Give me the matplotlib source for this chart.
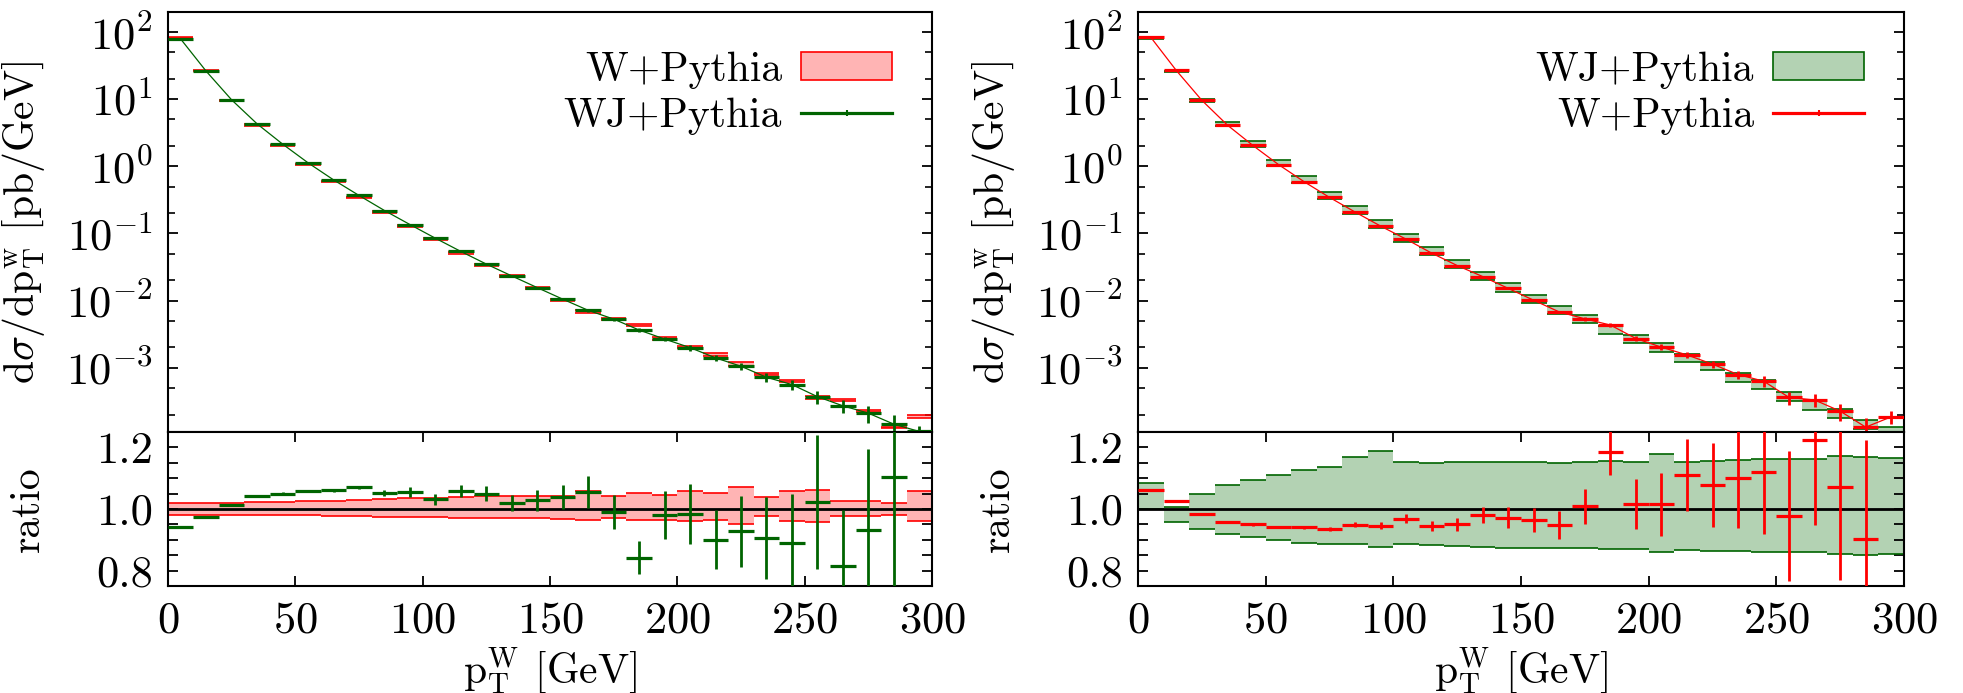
#!/usr/bin/env python3
#coding: utf-8

import numpy as np
import matplotlib
matplotlib.use("Agg")
import matplotlib.pyplot as plt
from matplotlib.patches import Patch
from matplotlib.lines import Line2D
from matplotlib.ticker import LogLocator, MultipleLocator, NullFormatter, FixedLocator

plt.rcParams["font.family"] = "serif"
plt.rcParams["font.serif"] = ["cmr10"]
plt.rcParams["mathtext.fontset"] = "cm"
plt.rcParams["axes.formatter.use_mathtext"] = True
plt.rcParams["axes.unicode_minus"] = False

# pT bins [GeV]
bin_edges = np.arange(0, 310, 10)

# d sigma / d pT  [pb/GeV]
w_xsec = [84, 26.9, 9.66, 4.13, 2.05, 1.066, 0.593, 0.345, 0.209, 0.129,
          0.0823, 0.051, 0.0333, 0.0228, 0.0152, 0.0101, 0.00677, 0.00535, 0.00432, 0.00272,
          0.00202, 0.00155, 0.00113, 7.9e-4, 6.3e-4, 3.6e-4, 3.3e-4, 2.25e-4, 1.3e-4, 1.85e-4]
wj_xsec = [79, 26.2, 9.8, 4.3, 2.15, 1.13, 0.63, 0.369, 0.22, 0.136,
           0.085, 0.054, 0.035, 0.0233, 0.0156, 0.0105, 0.00716, 0.0053, 0.00364, 0.00267,
           0.00199, 0.0014, 0.00105, 7.2e-4, 5.6e-4, 3.7e-4, 2.7e-4, 2.1e-4, 1.44e-4, 1.12e-4]

# left ratio: WJ / W with WJ stat errors, W uncertainty band
ratio_wj_w = [0.940, 0.973, 1.014, 1.041, 1.050, 1.059, 1.061, 1.070, 1.052, 1.055,
              1.032, 1.058, 1.050, 1.020, 1.028, 1.039, 1.055, 0.990, 0.842, 0.980,
              0.983, 0.900, 0.927, 0.905, 0.891, 1.023, 0.815, 0.933, 1.105, 0.605]
err_wj = [0.002, 0.002, 0.003, 0.003, 0.004, 0.004, 0.005, 0.006, 0.009, 0.016,
          0.018, 0.020, 0.024, 0.027, 0.035, 0.040, 0.052, 0.055, 0.053, 0.078,
          0.098, 0.096, 0.116, 0.133, 0.158, 0.218, 0.183, 0.261, 0.400, 0.120]
red_hi = [1.021, 1.021, 1.021, 1.024, 1.024, 1.025, 1.027, 1.029, 1.031, 1.035,
          1.035, 1.038, 1.041, 1.041, 1.041, 1.041, 1.058, 1.041, 1.051, 1.046,
          1.057, 1.051, 1.073, 1.039, 1.057, 1.063, 1.025, 1.027, 1.021, 1.060]
red_lo = [0.982, 0.982, 0.982, 0.979, 0.979, 0.979, 0.976, 0.976, 0.975, 0.975,
          0.975, 0.971, 0.970, 0.970, 0.970, 0.968, 0.965, 0.972, 0.963, 0.965,
          0.960, 0.965, 0.950, 0.977, 0.961, 0.958, 0.978, 0.976, 0.982, 0.960]

# right ratio: W / WJ with W stat errors, WJ uncertainty band
ratio_w_wj = [1.062, 1.025, 0.984, 0.958, 0.950, 0.942, 0.941, 0.934, 0.949, 0.946,
              0.968, 0.945, 0.950, 0.979, 0.972, 0.963, 0.947, 1.009, 1.186, 1.017,
              1.015, 1.110, 1.077, 1.102, 1.120, 0.977, 1.225, 1.070, 0.902, 1.650]
err_w = [0.002, 0.002, 0.003, 0.003, 0.004, 0.004, 0.005, 0.006, 0.008, 0.011,
         0.015, 0.017, 0.022, 0.026, 0.034, 0.039, 0.046, 0.057, 0.076, 0.082,
         0.102, 0.118, 0.136, 0.163, 0.200, 0.210, 0.276, 0.299, 0.322, 0.350]
green_hi = [1.086, 1.005, 1.048, 1.077, 1.093, 1.112, 1.128, 1.137, 1.170, 1.187,
            1.154, 1.150, 1.153, 1.151, 1.153, 1.153, 1.148, 1.153, 1.155, 1.151,
            1.180, 1.154, 1.157, 1.159, 1.163, 1.162, 1.161, 1.171, 1.170, 1.166]
green_lo = [1.000, 0.959, 0.934, 0.920, 0.908, 0.899, 0.890, 0.887, 0.885, 0.878,
            0.887, 0.883, 0.879, 0.878, 0.875, 0.874, 0.874, 0.872, 0.870, 0.870,
            0.862, 0.867, 0.865, 0.864, 0.861, 0.859, 0.859, 0.854, 0.852, 0.855]

RED = "#ff0000"
RED_FILL = "#ffb4b4"
GREEN = "#006400"
GREEN_FILL = "#b3d2b3"
FS = 30
TICK_FS = 32


def style_axes(ax):
	for sp in ax.spines.values():
		sp.set_linewidth(1.5)
	ax.set_xlim(0, 300)


def draw_panel(ax_main, ax_ratio, band_xsec, band_lo, band_hi, band_fill, band_edge,
			   pts_xsec, pts_ratio, pts_err, pts_color, labels):
	left = bin_edges[:-1]
	right = bin_edges[1:]
	centers = 0.5 * (left + right)
	band_xsec = np.array(band_xsec)
	band_lo = np.array(band_lo)
	band_hi = np.array(band_hi)
	pts_xsec = np.array(pts_xsec)
	pts_ratio = np.array(pts_ratio)
	pts_err = np.array(pts_err)

	# main panel
	ax_main.bar(centers, band_xsec * (band_hi - band_lo), width=10, bottom=band_xsec * band_lo,
				color=band_fill, lw=0, zorder=1)
	ax_main.hlines(band_xsec * band_hi, left, right, color=band_edge, lw=1.2, zorder=2)
	ax_main.hlines(band_xsec * band_lo, left, right, color=band_edge, lw=1.2, zorder=2)
	ax_main.plot(centers, pts_xsec, color=pts_color, lw=0.9, zorder=3)
	ax_main.hlines(pts_xsec, left, right, color=pts_color, lw=2.3, zorder=4)
	ax_main.errorbar(centers, pts_xsec, yerr=pts_xsec * pts_err / pts_ratio, fmt="none",
					 ecolor=pts_color, elinewidth=2.0, zorder=4)
	ax_main.set_yscale("log")
	ax_main.set_ylim(1.1e-4, 2e2)
	ax_main.yaxis.set_major_locator(LogLocator(base=10, numticks=20))
	ax_main.yaxis.set_minor_locator(LogLocator(base=10, subs=(2.0, 5.0), numticks=20))
	ax_main.yaxis.set_minor_formatter(NullFormatter())
	ax_main.tick_params(axis="x", which="both", bottom=False, top=False, labelbottom=False)
	ax_main.tick_params(axis="y", which="major", direction="in", left=True, right=True,
						length=7, width=1.3, labelsize=TICK_FS, pad=11)
	ax_main.tick_params(axis="y", which="minor", direction="in", left=True, right=True,
						length=5, width=1.2)
	ax_main.set_ylabel(r"d$\sigma$/d$\mathrm{p}_\mathrm{T}^\mathrm{w}$ [pb/GeV]", fontsize=FS)
	ax_main.yaxis.set_label_coords(-0.158, 0.5)
	style_axes(ax_main)

	handles = [Patch(facecolor=band_fill, edgecolor=band_edge, lw=1.2),
			   Line2D([], [], color=pts_color, lw=2.3, marker="|", markersize=4, markeredgewidth=1.5)]
	ax_main.legend(handles, labels, loc="upper right", frameon=False, fontsize=FS,
				   markerfirst=False, handlelength=2.2, handleheight=0.65, handletextpad=0.45,
				   labelspacing=0.2, borderaxespad=0.55, borderpad=0.4)

	# ratio panel
	ax_ratio.bar(centers, band_hi - band_lo, width=10, bottom=band_lo, color=band_fill, lw=0, zorder=1)
	ax_ratio.hlines(band_hi, left, right, color=band_edge, lw=1.2, zorder=2)
	ax_ratio.hlines(band_lo, left, right, color=band_edge, lw=1.2, zorder=2)
	ax_ratio.axhline(1.0, color="black", lw=2.0, zorder=3)
	ax_ratio.hlines(pts_ratio, left, right, color=pts_color, lw=2.3, zorder=4)
	ax_ratio.errorbar(centers, pts_ratio, yerr=pts_err, fmt="none", ecolor=pts_color,
					  elinewidth=2.0, zorder=4)
	ax_ratio.set_ylim(0.75, 1.25)
	ax_ratio.yaxis.set_major_locator(FixedLocator([0.8, 1.0, 1.2]))
	ax_ratio.yaxis.set_minor_locator(MultipleLocator(0.05))
	ax_ratio.yaxis.set_major_formatter(lambda v, p: "%.1f" % v)
	ax_ratio.xaxis.set_major_locator(MultipleLocator(50))
	ax_ratio.tick_params(axis="both", which="both", direction="in", left=True, right=True,
						 top=True, bottom=True, length=7, width=1.3)
	ax_ratio.tick_params(axis="y", which="major", labelsize=TICK_FS, pad=11)
	ax_ratio.tick_params(axis="x", which="major", labelsize=TICK_FS, pad=11)
	ax_ratio.set_ylabel("ratio", fontsize=FS)
	ax_ratio.yaxis.set_label_coords(-0.158, 0.5)
	ax_ratio.set_xlabel(r"$\mathrm{p}_\mathrm{T}^\mathrm{W}$ [GeV]", fontsize=FS, labelpad=3)
	style_axes(ax_ratio)


if __name__ == "__main__":
	fig = plt.figure(figsize=(19.63, 6.93), dpi=100)
	H = 693.0
	W = 1963.0
	main_l = fig.add_axes([168 / W, 1 - 432 / H, 764 / W, 420 / H])
	ratio_l = fig.add_axes([168 / W, 1 - 586 / H, 764 / W, 154 / H])
	main_r = fig.add_axes([1138 / W, 1 - 432 / H, 766 / W, 420 / H])
	ratio_r = fig.add_axes([1138 / W, 1 - 586 / H, 766 / W, 154 / H])

	draw_panel(main_l, ratio_l, w_xsec, red_lo, red_hi, RED_FILL, RED,
			   wj_xsec, ratio_wj_w, err_wj, GREEN, ["W+Pythia", "WJ+Pythia"])
	draw_panel(main_r, ratio_r, wj_xsec, green_lo, green_hi, GREEN_FILL, GREEN,
			   w_xsec, ratio_w_wj, err_w, RED, ["WJ+Pythia", "W+Pythia"])

	fig.savefig("out.png", dpi=100)
